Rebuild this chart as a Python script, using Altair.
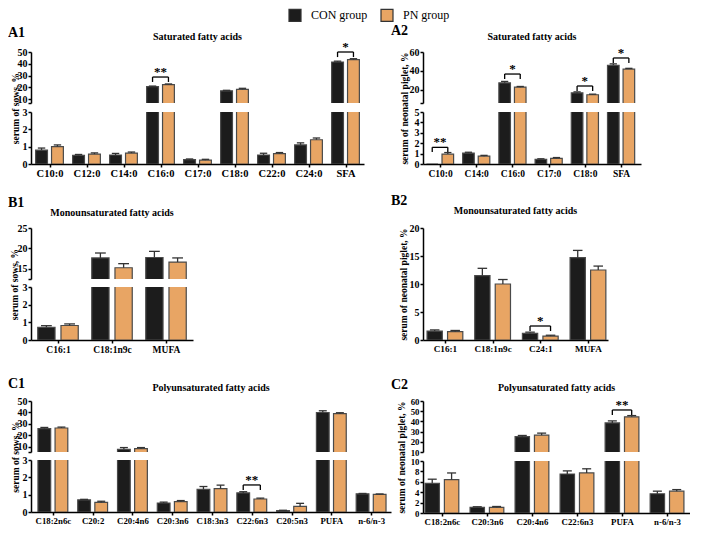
import altair as alt
import pandas as pd

FONT = "Liberation Serif"
GROUPS = ["CON group", "PN group"]
COLORS = ["#1c1c1c", "#E8A564"]
EDGE = "#4a4a4a"
ERR = "#333333"

# ---------------- data ----------------
A1_cats = ["C10:0", "C12:0", "C14:0", "C16:0", "C17:0", "C18:0", "C22:0", "C24:0", "SFA"]
A1_con = [0.80, 0.50, 0.52, 20.5, 0.25, 17.0, 0.52, 1.10, 41.5]
A1_con_err = [0.12, 0.05, 0.09, 0.5, 0.04, 0.4, 0.10, 0.12, 0.7]
A1_pn = [1.00, 0.57, 0.63, 22.3, 0.22, 18.2, 0.60, 1.40, 43.5]
A1_pn_err = [0.10, 0.07, 0.06, 0.5, 0.05, 0.9, 0.06, 0.10, 0.8]
A1_sig = [(3, 28.7, 24.5, "**", "upper"), (8, 50.0, 45.7, "*", "upper")]

A2_cats = ["C10:0", "C14:0", "C16:0", "C17:0", "C18:0", "SFA"]
A2_con = [0.0, 1.05, 27.5, 0.45, 17.0, 46.0]
A2_con_err = [0.0, 0.08, 1.5, 0.05, 1.0, 1.5]
A2_pn = [0.95, 0.75, 23.0, 0.55, 15.0, 42.0]
A2_pn_err = [0.15, 0.08, 0.7, 0.07, 0.6, 0.8]
A2_sig = [(0, 1.6, 1.15, "**", "lower"), (2, 36.8, 31.6, "*", "upper"),
          (4, 24.2, 19.0, "*", "upper"), (5, 53.7, 48.4, "*", "upper")]

B1_cats = ["C16:1", "C18:1n9c", "MUFA"]
B1_con = [0.72, 17.7, 17.8]
B1_con_err = [0.09, 1.2, 1.5]
B1_pn = [0.82, 15.3, 16.7]
B1_pn_err = [0.09, 1.0, 1.0]
B1_sig = []

B2_cats = ["C16:1", "C18:1n9c", "C24:1", "MUFA"]
B2_con = [1.6, 11.5, 1.2, 14.7]
B2_con_err = [0.2, 1.3, 0.2, 1.3]
B2_pn = [1.5, 10.0, 0.7, 12.5]
B2_pn_err = [0.2, 0.8, 0.15, 0.7]
B2_sig = [(2, 2.5, 1.6, "*", "single")]

C1_cats = ["C18:2n6c", "C20:2", "C20:4n6", "C20:3n6", "C18:3n3", "C22:6n3", "C20:5n3", "PUFA", "n-6/n-3"]
C1_con = [26.0, 0.70, 8.0, 0.52, 1.30, 1.10, 0.08, 40.0, 1.05]
C1_con_err = [1.0, 0.03, 1.5, 0.05, 0.17, 0.07, 0.02, 1.5, 0.02]
C1_pn = [26.5, 0.55, 8.5, 0.60, 1.35, 0.75, 0.32, 39.0, 1.02]
C1_pn_err = [0.8, 0.07, 1.0, 0.06, 0.20, 0.05, 0.18, 0.8, 0.02]
C1_sig = [(5, 1.56, 1.27, "**", "lower")]

C2_cats = ["C18:2n6c", "C20:3n6", "C20:4n6", "C22:6n3", "PUFA", "n-6/n-3"]
C2_con = [5.7, 1.1, 25.0, 7.5, 38.5, 3.7]
C2_con_err = [0.8, 0.1, 1.2, 0.6, 2.0, 0.5]
C2_pn = [6.4, 1.1, 26.5, 7.7, 44.5, 4.2]
C2_pn_err = [1.3, 0.15, 2.0, 0.8, 1.2, 0.3]
C2_sig = [(4, 51.2, 46.3, "**", "upper")]

# ---------------- helpers ----------------
OFF = 0.215
HALF = 0.16
CAP = 0.1

FILL = alt.Fill(
    "group:N",
    scale=alt.Scale(domain=GROUPS, range=COLORS),
    legend=alt.Legend(title=None, orient="none", legendX=257, legendY=-44,
                      direction="horizontal", symbolType="square", symbolSize=144,
                      symbolStrokeColor="#333333", symbolStrokeWidth=1.2,
                      symbolOpacity=1, labelFont=FONT, labelFontSize=12,
                      labelColor="black", labelOffset=9, columnPadding=10, padding=0),
)


def bar_table(cats, con, con_err, pn, pn_err):
    rows = []
    for i, c in enumerate(cats):
        for g, vals, errs, s in ((GROUPS[0], con, con_err, -1), (GROUPS[1], pn, pn_err, 1)):
            pos = i + s * OFF
            rows.append(dict(cat=c, group=g, value=vals[i], err=errs[i], top=vals[i] + errs[i],
                             pos=pos, x1=pos - HALF, x2=pos + HALF, c1=pos - CAP, c2=pos + CAP))
    return pd.DataFrame(rows)


def sig_tables(sig):
    rules, stars = [], []
    for (i, y, drop, lab, seg) in sig:
        a, b = i - OFF, i + OFF
        rules += [dict(seg=seg, x=a, x2=b, y=y, y2=y),
                  dict(seg=seg, x=a, x2=a, y=y, y2=drop),
                  dict(seg=seg, x=b, x2=b, y=y, y2=drop)]
        stars.append(dict(seg=seg, x=i, y=y, label=lab))
    return pd.DataFrame(rules), pd.DataFrame(stars)


def segment(df, rdf, sdf, seg, cats, xdom, width, ydom, yvals, minlab, height, show_x,
            xfont=10, yfont=10, ytitle=None, ytitle_x=-17, ytitle_y=None, title=None,
            title_dy=-12, label=None, label_dx=-23, label_dy=-15):
    xs = alt.Scale(domain=xdom, nice=False, zero=False)
    ys = alt.Scale(domain=ydom, nice=False, zero=False)
    names = "[" + ",".join("'" + c + "'" for c in cats) + "]"
    if show_x:
        xaxis = alt.Axis(values=list(range(len(cats))), labelExpr=names + "[datum.value]",
                         title=None, tickSize=3, labelAngle=0, labelPadding=1,
                         labelFontSize=xfont)
    else:
        xaxis = None
    yargs = dict(values=yvals, labelExpr="datum.value < %s ? '' : datum.label" % minlab,
                 labelFontSize=yfont)
    if ytitle:
        yargs.update(title=ytitle, titleX=ytitle_x, titleBaseline="middle", titleAngle=270)
        if ytitle_y is not None:
            yargs.update(titleY=ytitle_y)
    else:
        yargs.update(title=None)
    yaxis = alt.Axis(**yargs)

    def X(f):
        return alt.X(f + ":Q", scale=xs, axis=xaxis)

    def Y(f):
        return alt.Y(f + ":Q", scale=ys, axis=yaxis)

    layers = []
    layers.append(alt.Chart(df).mark_bar(clip=True, stroke=EDGE, strokeWidth=1.2).encode(
        x=X("x1"), x2=alt.X2("x2"), y=Y("value"), y2=alt.datum(0), fill=FILL))
    layers.append(alt.Chart(df).transform_filter("datum.err > 0").mark_rule(
        clip=True, color=ERR, strokeWidth=1.3).encode(x=X("pos"), y=Y("value"), y2=alt.Y2("top")))
    layers.append(alt.Chart(df).transform_filter("datum.err > 0").mark_rule(
        clip=True, color=ERR, strokeWidth=1.3).encode(x=X("c1"), x2=alt.X2("c2"), y=Y("top")))
    if len(rdf) and (rdf["seg"] == seg).any():
        r = rdf[rdf["seg"] == seg]
        s = sdf[sdf["seg"] == seg]
        layers.append(alt.Chart(r).mark_rule(color="black", strokeWidth=1.3).encode(
            x=X("x"), x2=alt.X2("x2"), y=Y("y"), y2=alt.Y2("y2")))
        layers.append(alt.Chart(s).mark_text(font=FONT, fontSize=13, fontWeight="bold",
                                             baseline="alphabetic", dy=-1, color="black").encode(
            x=X("x"), y=Y("y"), text="label:N"))
    if label:
        layers.append(alt.Chart(pd.DataFrame({"t": [label]})).mark_text(
            align="left", baseline="alphabetic", font=FONT, fontSize=14, fontWeight="bold",
            color="black").encode(x=alt.value(label_dx), y=alt.value(label_dy), text="t:N"))
    if title:
        layers.append(alt.Chart(pd.DataFrame({"t": [title]})).mark_text(
            align="center", baseline="alphabetic", font=FONT, fontSize=10, fontWeight="bold",
            color="black").encode(x=alt.value(width / 2), y=alt.value(title_dy), text="t:N"))
    return alt.layer(*layers).properties(width=width, height=height)


def spacer(h):
    return alt.Chart(pd.DataFrame({"s": [0]})).mark_point(opacity=0).encode(
        x=alt.value(0), y=alt.value(0)).properties(width=1, height=h)


def broken_panel(cats, con, con_err, pn, pn_err, sig, xdom, width, xfont, ytitle, ytitle_x,
                 title, title_dy, label, label_dx, label_dy,
                 up_dom, up_vals, up_min, lo_dom, lo_vals, U, G, L, yfont=10):
    df = bar_table(cats, con, con_err, pn, pn_err)
    rdf, sdf = sig_tables(sig)
    upper = segment(df, rdf, sdf, "upper", cats, xdom, width, up_dom, up_vals, up_min, U, False,
                    yfont=yfont, title=title, title_dy=title_dy, label=label,
                    label_dx=label_dx, label_dy=label_dy)
    lower = segment(df, rdf, sdf, "lower", cats, xdom, width, lo_dom, lo_vals, lo_dom[0], L, True,
                    xfont=xfont, yfont=yfont, ytitle=ytitle, ytitle_x=ytitle_x,
                    ytitle_y=(L - U - G) / 2)
    return [upper, spacer(G), lower]


SOW = "serum of sows, %"
PIG = "serum of neonatal piglet, %"

A1 = broken_panel(A1_cats, A1_con, A1_con_err, A1_pn, A1_pn_err, A1_sig, [-0.5, 8.5], 333, 10.5,
                  SOW, -16, "Saturated fatty acids", -12, "A1", -23, -15,
                  [6.6, 50], [6.6, 10, 20, 30, 40, 50], 10, [0, 3], [0, 1, 2, 3], 51, 9, 52)
A2 = broken_panel(A2_cats, A2_con, A2_con_err, A2_pn, A2_pn_err, A2_sig, [-0.47, 5.55], 218, 9.5,
                  PIG, -19, "Saturated fatty acids", -12, "A2", -32, -17,
                  [6.3, 60], [6.3, 20, 40, 60], 20, [0, 5], [0, 1, 2, 3, 4, 5], 51, 9, 52)
B1 = broken_panel(B1_cats, B1_con, B1_con_err, B1_pn, B1_pn_err, B1_sig, [-0.5, 2.5], 162, 9.5,
                  SOW, -17, "Monounsaturated fatty acids", -12, "B1", -23, -21,
                  [12.56, 25], [12.56, 15, 20, 25], 15, [0, 3], [0, 1, 2, 3], 51, 8, 53)

B2_df = bar_table(B2_cats, B2_con, B2_con_err, B2_pn, B2_pn_err)
B2_r, B2_s = sig_tables(B2_sig)
B2 = segment(B2_df, B2_r, B2_s, "single", B2_cats, [-0.46, 3.42], 185, [0, 20],
             [0, 5, 10, 15, 20], 0, 112, True, xfont=9.2, ytitle=PIG, ytitle_x=-20,
             title="Monounsaturated fatty acids", title_dy=-14, label="B2",
             label_dx=-32, label_dy=-23)

C1 = broken_panel(C1_cats, C1_con, C1_con_err, C1_pn, C1_pn_err, C1_sig, [-0.55, 8.5], 360, 8.8,
                  SOW, -16, "Polyunsaturated fatty acids", -10, "C1", -23, -13,
                  [5.65, 50], [5.65, 10, 20, 30, 40, 50], 10, [0, 3], [0, 1, 2, 3], 51, 8, 52)
C2 = broken_panel(C2_cats, C2_con, C2_con_err, C2_pn, C2_pn_err, C2_sig, [-0.42, 5.51], 267, 8.8,
                  PIG, -22, "Polyunsaturated fatty acids", -10, "C2", -32, -12,
                  [10, 60], [10, 20, 30, 40, 50, 60], 10, [0, 10], [0, 2, 4, 6, 8, 10], 51, 9, 52,
                  yfont=8.8)

col1 = alt.vconcat(*(A1 + [spacer(64)] + B1 + [spacer(61)] + C1), spacing=0, bounds="flush")
col2 = alt.vconcat(*(A2 + [spacer(64), B2, spacer(61)] + C2), spacing=0, bounds="flush")
chart = alt.hconcat(col1, col2, spacing=0).resolve_scale(fill="shared")

chart = chart.properties(padding=0).configure_view(stroke=None).configure_axis(
    labelFont=FONT, labelFontWeight="bold", labelFontSize=10, labelColor="black",
    titleFont=FONT, titleFontWeight="bold", titleFontSize=9.5, titleColor="black",
    domainColor="black", domainWidth=1.5, tickColor="black", tickWidth=1.5, tickSize=3,
    labelPadding=1, grid=False,
)

chart.save("out.html", embed_options={"renderer": "svg", "actions": False})
